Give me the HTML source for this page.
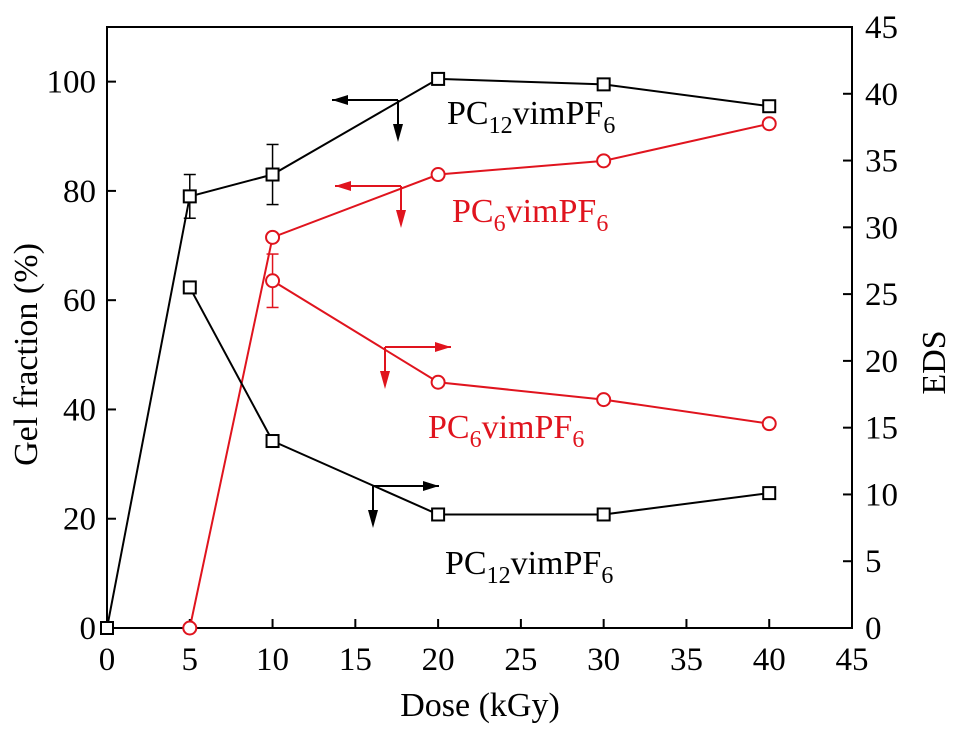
<!DOCTYPE html>
<html><head><meta charset="utf-8"><style>
html,body{margin:0;padding:0;background:#fff;}
svg{display:block;font-family:"Liberation Serif",serif;}
</style></head><body>
<svg id="chart" width="957" height="730"></svg>
<script>
const doses = [0,5,10,20,30,40];
const gelBlack = [0,79,83,100.5,99.5,95.5];
const gelBlackErr = [0,4,5.5,0,0,0];
const gelRedDoses = [5,10,20,30,40];
const gelRed = [0,71.5,83,85.5,92.3];
const edsBlackDoses = [5,10,20,30,40];
const edsBlack = [25.5,14.0,8.5,8.5,10.1];
const edsRedDoses = [10,20,30,40];
const edsRed = [26.0,18.4,17.1,15.3];
const edsRedErr = [2.0,0,0,0];
const xTicks = [0,5,10,15,20,25,30,35,40,45];
const yLTicks = [0,20,40,60,80,100];
const yRTicks = [0,5,10,15,20,25,30,35,40,45];

const L=107,R=852,T=27,B=628;
const X=v=>L+(R-L)*v/45;
const YL=v=>B-(B-T)*v/110;
const YR=v=>B-(B-T)*v/45;
const svg=document.getElementById('chart');
const NS='http://www.w3.org/2000/svg';
function mk(tag,attrs,parent){const e=document.createElementNS(NS,tag);for(const k in attrs)e.setAttribute(k,attrs[k]);(parent||svg).appendChild(e);return e;}

const frame=mk('rect',{x:L,y:T,width:R-L,height:B-T,fill:'none',stroke:'#000','stroke-width':2});



xTicks.forEach(t=>{
  const g=mk('g',{});
  
  
  mk('line',{x1:X(t),x2:X(t),y1:B,y2:B-9,stroke:'#000','stroke-width':2},g);
  const tx=mk('text',{x:X(t),y:B+42,'font-size':33,'text-anchor':'middle'},g);tx.textContent=t;
});
yLTicks.forEach(t=>{
  const g=mk('g',{});
  
  
  mk('line',{x1:L,x2:L+9,y1:YL(t),y2:YL(t),stroke:'#000','stroke-width':2},g);
  const tx=mk('text',{x:L-11,y:YL(t)+11,'font-size':33,'text-anchor':'end'},g);tx.textContent=t;
});
yRTicks.forEach(t=>{
  const g=mk('g',{});
  
  
  mk('line',{x1:R,x2:R-9,y1:YR(t),y2:YR(t),stroke:'#000','stroke-width':2},g);
  const tx=mk('text',{x:R+13,y:YR(t)+11,'font-size':33,'text-anchor':'start'},g);tx.textContent=t;
});
let t1=mk('text',{x:480,y:716,'font-size':34,'text-anchor':'middle'});t1.textContent='Dose (kGy)';

let t2=mk('text',{x:0,y:0,'font-size':34,'text-anchor':'middle',transform:`translate(37,${(T+B)/2+27}) rotate(-90)`});t2.textContent='Gel fraction (%)';

let t3=mk('text',{x:0,y:0,'font-size':34,'text-anchor':'middle',transform:`translate(945,${(T+B)/2+35}) rotate(-90)`});t3.textContent='EDS';


function series(name,xs,ys,yf,color,marker,errs){
  const g=mk('g',{});
  
  
  mk('polyline',{points:xs.map((x,i)=>X(x)+','+yf(ys[i])).join(' '),fill:'none',stroke:color,'stroke-width':2},g);
  xs.forEach((x,i)=>{
    const cx=X(x),cy=yf(ys[i]);
    if(errs&&errs[i]){const e1=yf(ys[i]+errs[i]),e2=yf(ys[i]-errs[i]);
      mk('line',{x1:cx,x2:cx,y1:e1,y2:e2,stroke:color,'stroke-width':1.5},g);
      mk('line',{x1:cx-6,x2:cx+6,y1:e1,y2:e1,stroke:color,'stroke-width':1.5},g);
      mk('line',{x1:cx-6,x2:cx+6,y1:e2,y2:e2,stroke:color,'stroke-width':1.5},g);}
    let m;
    if(marker==='sq') m=mk('rect',{x:cx-6,y:cy-6,width:12,height:12,fill:'#fff',stroke:color,'stroke-width':2},g);
    else m=mk('circle',{cx:cx,cy:cy,r:6.5,fill:'#fff',stroke:color,'stroke-width':2},g);
    
    
  });
}
series('gel-pc12-series',doses,gelBlack,YL,'#000','sq',gelBlackErr);
series('gel-pc6-series',gelRedDoses,gelRed,YL,'#e0141e','ci',null);
series('eds-pc12-series',edsBlackDoses,edsBlack,YR,'#000','sq',null);
series('eds-pc6-series',edsRedDoses,edsRed,YR,'#e0141e','ci',edsRedErr);

function arrow(name,x,y,dir,color){
  const g=mk('g',{});
  
  
  const ex=x+dir*66;
  mk('line',{x1:x,y1:y,x2:ex,y2:y,stroke:color,'stroke-width':2},g);
  mk('polygon',{points:`${ex},${y} ${ex-dir*16},${y-5} ${ex-dir*16},${y+5}`,fill:color},g);
  mk('line',{x1:x,y1:y,x2:x,y2:y+38,stroke:color,'stroke-width':2},g);
  mk('polygon',{points:`${x},${y+42} ${x-5},${y+24} ${x+5},${y+24}`,fill:color},g);
}
arrow('arrow-gel-pc12',398,100,-1,'#000');
arrow('arrow-gel-pc6',401,186,-1,'#e0141e');
arrow('arrow-eds-pc6',385,347,1,'#e0141e');
arrow('arrow-eds-pc12',373,486,1,'#000');

function label(name,x,y,color,sub){
  const t=mk('text',{x:x,y:y,'font-size':34,fill:color});
  
  
  t.innerHTML=`PC<tspan font-size="24" dy="9">${sub}</tspan><tspan dy="-9">vimPF</tspan><tspan font-size="24" dy="9">6</tspan>`;
}
label('label-gel-pc12',447,124,'#000','12');
label('label-gel-pc6',452,222,'#e0141e','6');
label('label-eds-pc6',428,438,'#e0141e','6');
label('label-eds-pc12',445,574,'#000','12');
</script>
</body></html>
